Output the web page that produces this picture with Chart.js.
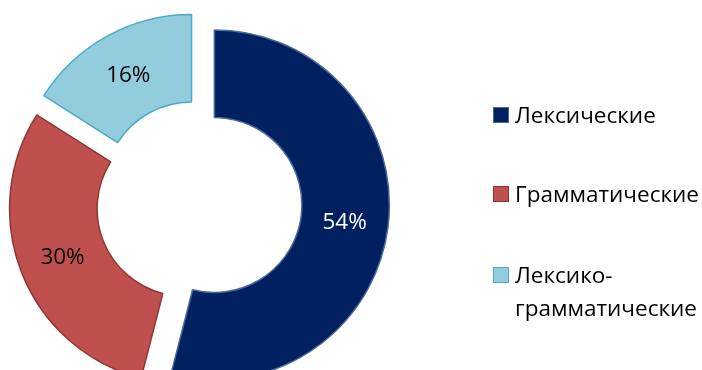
<!DOCTYPE html>
<html>
<head>
<meta charset="utf-8">
<script src="https://cdn.jsdelivr.net/npm/chart.js@4"></script>
<style>
  html, body { margin: 0; padding: 0; background: #fff; overflow: hidden; }
  #wrap { position: relative; width: 702px; height: 370px; }
  #chart { position: absolute; left: 0; top: 0; }
  #legend { position: absolute; left: 493px; top: 0; width: 209px; font-family: "Open Sans", sans-serif; font-size: 22.5px; color: #000; }
  .item { position: absolute; left: 0; width: 209px; line-height: 33px; }
  .box { position: absolute; left: 0; top: 9px; width: 14px; height: 14px; border: 1px solid; }
  .txt { margin-left: 22px; }
</style>
</head>
<body>
<div id="wrap">
  <canvas id="chart" width="702" height="370"></canvas>
  <div id="legend"></div>
</div>
<script>
// Данные диаграммы
const categories = ["Лексические", "Грамматические", "Лексико-грамматические"];
const values = [54, 30, 16];
const fillColors = ["#002060", "#C0504D", "#93CDDD"];
const borderColors = ["#4A6A9A", "#8C3836", "#4BACC6"];
const labelColors = ["#FFFFFF", "#000000", "#000000"];

const EXPLODE = 15.5; // вынос секторов от центра, px

// Chart.js 4 делит offset на 4 и раздувает большие сектора,
// поэтому выносим сектора сами: сдвигаем каждый по его биссектрисе
const explodeSlices = {
    id: "explodeSlices",
    beforeDatasetDraw(chart, args) {
        args.meta.data.forEach(arc => {
            if (arc._exploded) return;
            const origDraw = arc.draw.bind(arc);
            arc.draw = function (ctx, area) {
                const mid = (this.startAngle + this.endAngle) / 2;
                ctx.save();
                ctx.translate(Math.cos(mid) * EXPLODE, Math.sin(mid) * EXPLODE);
                origDraw(ctx, area);
                ctx.restore();
            };
            arc._exploded = true;
        });
    }
};

// Подписи процентов в центре каждого сектора
const sliceLabels = {
    id: "sliceLabels",
    afterDatasetsDraw(chart) {
        const ctx = chart.ctx;
        const meta = chart.getDatasetMeta(0);
        const total = values.reduce((a, b) => a + b, 0);
        ctx.save();
        ctx.font = '22.5px "Open Sans", sans-serif';
        ctx.textAlign = "center";
        ctx.textBaseline = "middle";
        meta.data.forEach((arc, i) => {
            const p = arc.getProps(["x", "y", "startAngle", "endAngle", "innerRadius", "outerRadius"]);
            const mid = (p.startAngle + p.endAngle) / 2;
            const r = (p.innerRadius + p.outerRadius) / 2 + EXPLODE;
            ctx.fillStyle = labelColors[i];
            ctx.fillText(Math.round(values[i] / total * 100) + "%", p.x + Math.cos(mid) * r, p.y + Math.sin(mid) * r + 1);
        });
        ctx.restore();
    }
};

new Chart(document.getElementById("chart"), {
    type: "doughnut",
    data: {
        labels: categories,
        datasets: [{
            data: values,
            backgroundColor: fillColors,
            borderColor: borderColors,
            borderWidth: 1.5,
            offset: 0,
            hoverOffset: 0,
            clip: false
        }]
    },
    options: {
        responsive: false,
        animation: false,
        radius: 175,
        cutout: "50%",
        layout: { padding: { left: 0, right: 304, top: 36, bottom: 0 } },
        plugins: {
            legend: { display: false },
            tooltip: { enabled: false }
        }
    },
    plugins: [explodeSlices, sliceLabels]
});

// Легенда справа
const legendTops = [98, 176.5, 258];
const legendDiv = document.getElementById("legend");
categories.forEach((name, i) => {
    const item = document.createElement("div");
    item.className = "item";
    item.style.top = legendTops[i] + "px";
    item.innerHTML = `<span class="box" style="background:${fillColors[i]};border-color:${borderColors[i]}"></span><div class="txt">${name}</div>`;
    legendDiv.appendChild(item);
});
</script>
</body>
</html>
